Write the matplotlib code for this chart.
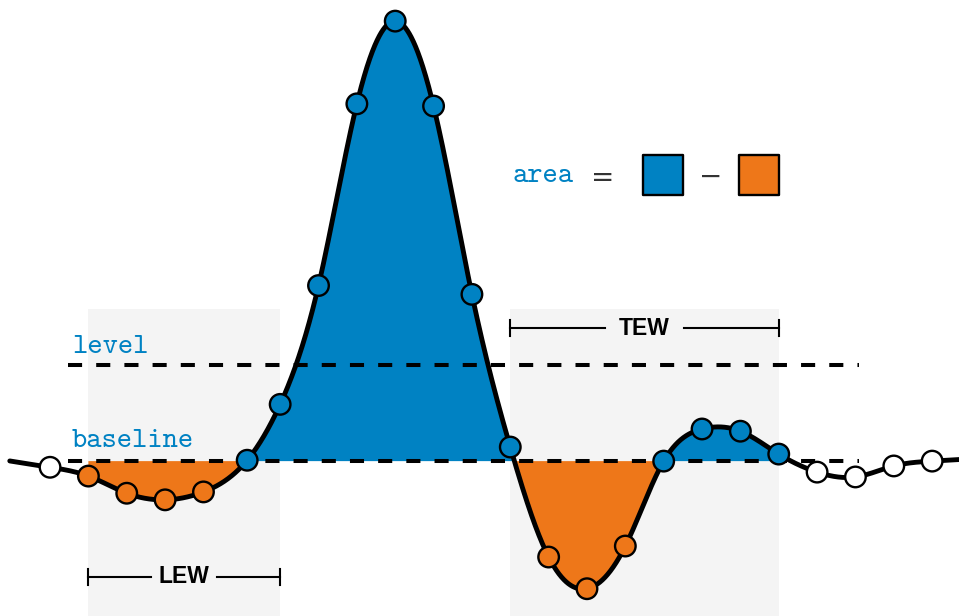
import numpy as np
import matplotlib
matplotlib.use('Agg')
import matplotlib.pyplot as plt

# sample positions and values, baseline at 0
times = [0, 1, 2, 3, 4, 5.14, 6, 7, 8, 9, 10, 11,
         12, 13, 14, 15, 16, 17, 18, 19, 20, 21, 22, 23]
values = [-1.4, -3.4, -7.3, -8.8, -7.0, 0.2, 12.9, 39.9, 81.2, 100.0, 80.7, 37.9,
          3.2, -21.8, -29.0, -19.3, 0.0, 7.3, 6.8, 1.6, -2.5, -3.6, -1.1, 0.0]
level = 21.8
lew_window = (1, 6)     # sample indices
tew_window = (12, 19)
area_window = (1, 19)

blue = '#0082c3'
orange = '#ee7719'
grey = '#f4f4f4'


def natural_spline(x, y, xs):
    """ natural cubic spline through (x, y), extended linearly outside """
    x = np.asarray(x, dtype=float)
    y = np.asarray(y, dtype=float)
    xs = np.asarray(xs, dtype=float)
    n = len(x)
    h = np.diff(x)
    A = np.zeros((n, n))
    r = np.zeros(n)
    A[0, 0] = A[-1, -1] = 1
    for i in range(1, n - 1):
        A[i, i - 1] = h[i - 1]
        A[i, i] = 2 * (h[i - 1] + h[i])
        A[i, i + 1] = h[i]
        r[i] = 6 * ((y[i + 1] - y[i]) / h[i] - (y[i] - y[i - 1]) / h[i - 1])
    M = np.linalg.solve(A, r)

    i = np.clip(np.searchsorted(x, xs) - 1, 0, n - 2)
    hi = h[i]
    a = x[i + 1] - xs
    b = xs - x[i]
    out = (M[i] * a ** 3 / (6 * hi) + M[i + 1] * b ** 3 / (6 * hi)
           + (y[i] / hi - M[i] * hi / 6) * a + (y[i + 1] / hi - M[i + 1] * hi / 6) * b)

    d0 = (y[1] - y[0]) / h[0] - h[0] * (2 * M[0] + M[1]) / 6
    dn = (y[-1] - y[-2]) / h[-1] + h[-1] * (M[-2] + 2 * M[-1]) / 6
    out = np.where(xs < x[0], y[0] + d0 * (xs - x[0]), out)
    out = np.where(xs > x[-1], y[-1] + dn * (xs - x[-1]), out)
    return out


fig = plt.figure(figsize=(9.59, 6.16), dpi=100)
ax = fig.add_axes([0, 0, 1, 1])
ax.set_xlim(-1.305, 23.70)
ax.set_ylim(-35.2, 104.8)
ax.axis('off')

# shaded windows
win_top = 34.5
for a, b in (lew_window, tew_window):
    ax.fill_between([times[a], times[b]], [-40, -40], [win_top, win_top],
                    color=grey, lw=0, zorder=0)

# positive / negative area
xf = np.linspace(times[area_window[0]], times[area_window[1]], 2000)
yf = natural_spline(times, values, xf)
ax.fill_between(xf, 0, yf, where=yf >= 0, interpolate=True, color=blue, lw=0, zorder=1)
ax.fill_between(xf, 0, yf, where=yf <= 0, interpolate=True, color=orange, lw=0, zorder=1)

# level and baseline
ax.plot([0.47, 21.1], [level, level], color='k', lw=2.9, dashes=(3.5, 3.5), zorder=2)
ax.plot([0.47, 21.1], [0, 0], color='k', lw=2.9, dashes=(3.5, 3.5), zorder=2)
ax.text(0.57, level + 2.7, 'level', color=blue, family='cmtt10', fontsize=21, va='baseline')
ax.text(0.57, 3.1, 'baseline', color=blue, family='cmtt10', fontsize=21, va='baseline')

# smooth curve
xs = np.linspace(-1.05, 23.8, 3000)
ax.plot(xs, natural_spline(times, values, xs), color='k', lw=3.5, zorder=3,
        solid_capstyle='round')

# samples
colors = []
for i, v in enumerate(values):
    if area_window[0] <= i <= area_window[1]:
        colors.append(blue if v >= 0 else orange)
    else:
        colors.append('white')
ax.scatter(times, values, s=14.8 ** 2, c=colors, edgecolors='k', linewidths=1.7, zorder=4)


def bracket(a, b, y, label, gap):
    mid = (a + b) / 2
    ax.plot([a, mid - gap], [y, y], color='k', lw=1.5)
    ax.plot([mid + gap, b], [y, y], color='k', lw=1.5)
    for x in (a, b):
        ax.plot([x, x], [y - 1.8, y + 1.8], color='k', lw=1.5)
    ax.text(mid, y, label, ha='center', va='center', fontsize=16.5,
            fontweight='bold', family='Liberation Sans')


bracket(times[lew_window[0]], times[lew_window[1]], -26.3, 'LEW', 0.86)
bracket(times[tew_window[0]], times[tew_window[1]], 30.2, 'TEW', 1.02)

# area = blue - orange
ty = 1 - 176 / 616
ax.text(513 / 959, ty, 'area', color=blue, family='cmtt10', fontsize=21,
        va='center', transform=ax.transAxes)
ax.text(599 / 959, ty, '$=$', fontsize=20, va='center', ha='center',
        color='#333333', transform=ax.transAxes)
ax.text(709 / 959, ty, '$-$', fontsize=20, va='center', ha='center',
        color='#333333', transform=ax.transAxes)
for x0, c in ((643, blue), (739, orange)):
    ax.add_patch(plt.Rectangle((x0 / 959, 1 - 195 / 616), 40 / 959, 40 / 616,
                               transform=ax.transAxes, facecolor=c, edgecolor='k',
                               lw=1.7, joinstyle='round'))

plt.savefig('out.png', dpi=100)
